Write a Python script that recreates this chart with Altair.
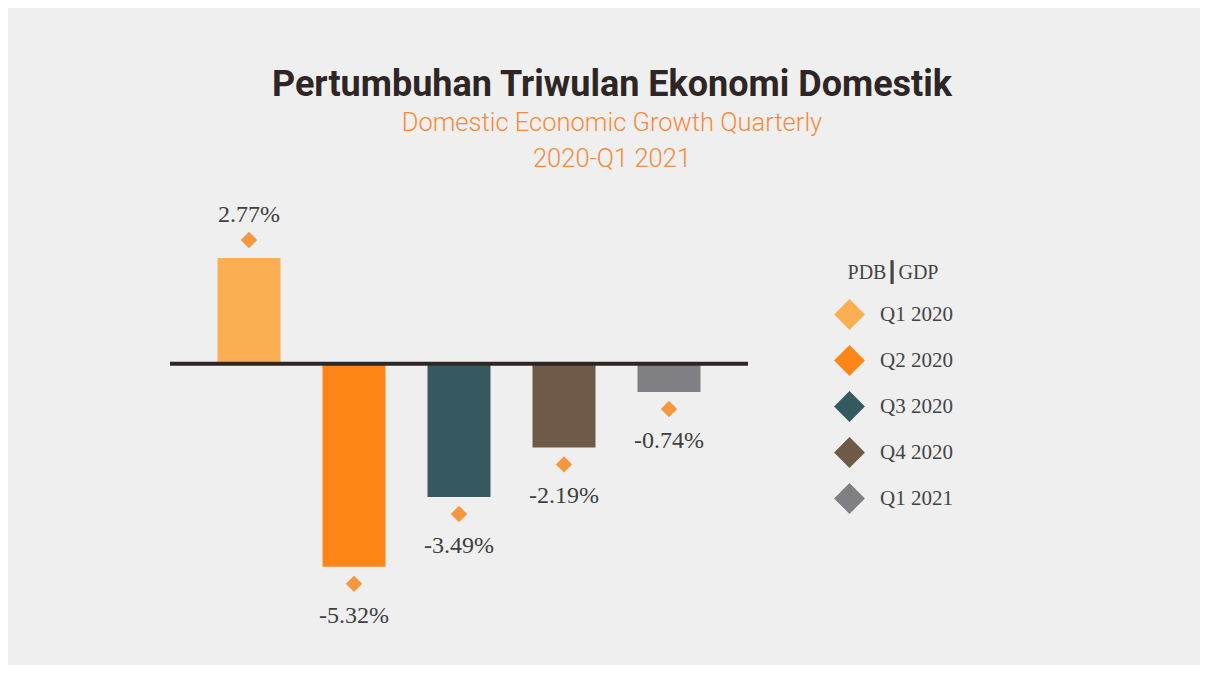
import altair as alt
import pandas as pd

quarters = ["Q1 2020", "Q2 2020", "Q3 2020", "Q4 2020", "Q1 2021"]
growth = [2.77, -5.32, -3.49, -2.19, -0.74]
labels = ["2.77%", "-5.32%", "-3.49%", "-2.19%", "-0.74%"]
colors = ["#fcaf52", "#fe8619", "#35595e", "#6e5a46", "#808084"]

df = pd.DataFrame({"quarter": quarters, "value": growth, "label": labels})

x_enc = alt.X("quarter:N", sort=quarters, axis=None,
              scale=alt.Scale(range=[0, 578], paddingInner=0.4, paddingOuter=0.4524))
y_scale = alt.Scale(domain=[-7, 4.5], nice=False, zero=False)
y_enc = alt.Y("value:Q", scale=y_scale, axis=None)

base = alt.Chart(df)

bars = base.mark_bar().encode(
    x=x_enc,
    y=y_enc,
    y2=alt.datum(0),
    color=alt.Color(
        "quarter:N", sort=quarters,
        scale=alt.Scale(domain=quarters, range=colors),
        legend=alt.Legend(
            title="PDB\u2503GDP",
            orient="none", legendX=664, legendY=71,
            symbolType="diamond", symbolSize=950, symbolStrokeWidth=0,
            symbolOpacity=1,
            labelFont="Liberation Serif", labelFontSize=21, labelColor="#444444",
            titleFont="Liberation Serif", titleFontSize=20, titleFontWeight="normal",
            titleColor="#444444", titlePadding=16, rowPadding=15, labelOffset=15,
            titleAnchor="middle", titleAlign="center",
            padding=0,
        ),
    ),
)

pos = base.transform_filter("datum.value >= 0")
neg = base.transform_filter("datum.value < 0")

dia_color = "#f5973e"
pos_dia = pos.mark_point(shape="diamond", filled=True, size=270, color=dia_color,
                         opacity=1, yOffset=-18).encode(x=x_enc, y=y_enc)
neg_dia = neg.mark_point(shape="diamond", filled=True, size=270, color=dia_color,
                         opacity=1, yOffset=17).encode(x=x_enc, y=y_enc)

txt_kw = dict(font="Liberation Serif", fontSize=24, color="#404040", baseline="middle")
pos_txt = pos.mark_text(dy=-43, **txt_kw).encode(x=x_enc, y=y_enc, text="label:N")
neg_txt = neg.mark_text(dy=49, **txt_kw).encode(x=x_enc, y=y_enc, text="label:N")

zero_line = alt.Chart(pd.DataFrame({"z": [0]})).mark_rule(
    color="#2e2624", strokeWidth=4
).encode(y=alt.Y("z:Q", scale=y_scale, axis=None), x=alt.value(0), x2=alt.value(578))

chart = alt.layer(bars, zero_line, pos_dia, neg_dia, pos_txt, neg_txt).properties(
    width=884,
    height=439,
    background="#efefef",
    padding={"left": 162, "right": 146, "top": 184, "bottom": 34},
    autosize=alt.AutoSizeParams(type="none"),
    title=alt.Title(
        "Pertumbuhan Triwulan Ekonomi Domestik",
        subtitle=["Domestic Economic Growth Quarterly", "2020-Q1 2021"],
        anchor="middle",
        font="Roboto", fontSize=36, fontWeight="bold", color="#2e2624",
        subtitleFont="Roboto", subtitleFontSize=25.5, subtitleFontWeight=300,
        subtitleColor="#f58b3a", subtitleLineHeight=36, subtitlePadding=7,
        offset=19,
    ),
).configure_view(stroke=None)

chart.save("out.html", embed_options={"renderer": "svg", "actions": False})
